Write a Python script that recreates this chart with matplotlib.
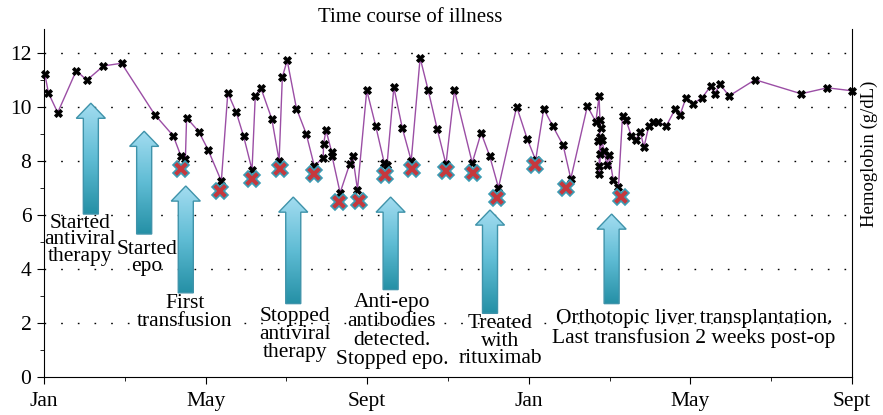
import numpy as np
import matplotlib
matplotlib.use('Agg')
import matplotlib.pyplot as plt
from matplotlib.patches import Polygon
from matplotlib.colors import LinearSegmentedColormap

plt.rcParams['font.family'] = ['Liberation Serif', 'DejaVu Serif']

# hemoglobin measurements (months since first Jan, g/dL)
months = [0.02, 0.11, 0.34, 0.80, 1.06, 1.47, 1.92, 2.74, 3.20, 3.39, 3.50, 3.53,
          3.83, 4.06, 4.39, 4.55, 4.76, 4.94, 5.15, 5.23, 5.37, 5.64, 5.82, 5.90,
          6.02, 6.25, 6.49, 6.69, 6.91, 6.92, 6.98, 7.12, 7.13, 7.33, 7.57, 7.64,
          7.76, 7.99, 8.21, 8.42, 8.49, 8.66, 8.87, 9.09, 9.31, 9.51, 9.73, 9.95,
          10.16, 10.60, 10.82, 11.03, 11.25, 11.70, 11.96, 12.17, 12.37, 12.59, 12.85, 13.04,
          13.45, 13.66, 13.74, 13.76, 13.78, 13.72, 13.76, 13.74, 13.75, 13.77, 13.80, 13.87,
          13.93, 13.99, 14.09, 14.22, 14.32, 14.40, 14.54, 14.65, 14.76, 14.85, 14.97, 15.08,
          15.20, 15.40, 15.63, 15.74, 15.89, 16.06, 16.29, 16.50, 16.60, 16.73, 16.96, 17.60,
          18.74, 19.39, 20.00]
hgb = [11.25, 10.53, 9.80, 11.36, 11.00, 11.53, 11.63, 9.73, 8.94, 8.19, 8.07, 9.61,
       9.10, 8.43, 7.26, 10.53, 9.81, 8.93, 7.68, 10.42, 10.71, 9.56, 8.02, 11.12,
       11.74, 9.95, 9.02, 7.83, 8.12, 8.63, 9.15, 8.35, 8.19, 6.83, 7.91, 8.20,
       6.94, 10.63, 9.31, 7.95, 7.85, 10.74, 9.22, 8.02, 11.83, 10.63, 9.21, 7.89,
       10.63, 7.94, 9.05, 8.20, 7.02, 10.02, 8.83, 8.04, 9.94, 9.31, 8.59, 7.35,
       10.04, 9.46, 10.42, 9.52, 9.24, 8.74, 8.90, 7.81, 7.52, 8.28, 8.78, 8.37,
       7.85, 8.22, 7.30, 7.05, 9.68, 9.54, 8.94, 8.80, 9.09, 8.52, 9.30, 9.44,
       9.46, 9.30, 9.95, 9.70, 10.35, 10.13, 10.35, 10.78, 10.50, 10.85, 10.42, 11.02,
       10.50, 10.72, 10.61]

# transfusions
tx_months = [3.39, 4.36, 5.15, 5.83, 6.69, 7.29, 7.80, 8.45, 9.11, 9.96, 10.61,
             11.22, 12.15, 12.93, 14.27]
tx_hgb = [7.70, 6.90, 7.33, 7.71, 7.52, 6.47, 6.53, 7.47, 7.71, 7.64, 7.58,
          6.63, 7.85, 7.02, 6.69]

tick_pos = [0, 4, 8, 12, 16, 20]
tick_labels = ['Jan', 'May', 'Sept', 'Jan', 'May', 'Sept']

# events: text, arrow x, arrow bottom, arrow tip, text x, text y, line spacing
events = [
    ('Started\nantiviral\ntherapy', 1.16, 6.04, 10.15, 0.89, 5.08, 0.82),
    ('Started\nepo', 2.48, 5.30, 9.11, 2.55, 4.42, 0.85),
    ('First\ntransfusion', 3.51, 3.12, 7.08, 3.49, 2.38, 0.93),
    ('Stopped\nantiviral\ntherapy', 6.17, 2.72, 6.67, 6.21, 1.58, 0.95),
    ('Anti-epo\nantibodies\ndetected.\nStopped epo.', 8.58, 3.24, 6.67, 8.61, 1.70, 1.0),
    ('Treated\nwith\nrituximab', 11.04, 2.36, 6.19, 11.29, 1.33, 0.9),
    ('Orthotopic liver transplantation.\nLast transfusion 2 weeks post-op', 14.05, 2.72, 6.04, 16.09, 1.80, 0.95),
]

fig = plt.figure(figsize=(8.83, 4.15), dpi=100)
ax = fig.add_axes([0.0498, 0.0916, 0.9151, 0.8385])

# grid
for g in [2, 4, 6, 8, 10, 12]:
    ax.axhline(g, color='black', lw=1.0, linestyle=(0, (1.2, 10.8)), zorder=0)

# gradient arrows
cmap = LinearSegmentedColormap.from_list('arr', ['#2590a6', '#5fbcd4', '#a2dcf0'])
grad = np.linspace(0, 1, 100).reshape(-1, 1)
hw_shaft = 0.186
hw_head = 0.36
head_len = 0.56
for txt, ax_x, y0, y1, tx, ty, ls in events:
    verts = [(ax_x - hw_shaft, y0), (ax_x + hw_shaft, y0), (ax_x + hw_shaft, y1 - head_len),
             (ax_x + hw_head, y1 - head_len), (ax_x, y1), (ax_x - hw_head, y1 - head_len),
             (ax_x - hw_shaft, y1 - head_len)]
    poly = Polygon(verts, closed=True, facecolor='none', edgecolor='#3f93aa', lw=1.0, zorder=3)
    ax.add_patch(poly)
    im = ax.imshow(grad, cmap=cmap, aspect='auto', origin='lower',
                   extent=[ax_x - hw_head, ax_x + hw_head, y0, y1], zorder=2)
    im.set_clip_path(poly)
    ax.text(tx, ty, txt, ha='center', va='center', fontsize=15.5, linespacing=ls, zorder=4)

ax.set_xlim(0, 20)
ax.set_ylim(0, 12.9)

# hemoglobin line
ax.plot(months, hgb, color='#9b4ea5', lw=1.0, marker='X', ms=5.5, mfc='black', mec='black',
        mew=0.6, zorder=5, clip_on=False)
# transfusion markers
ax.plot(tx_months, tx_hgb, linestyle='none', marker='X', ms=11, mfc='#c6383d', mec='#3c9cb4',
        mew=1.2, zorder=6)

ax.spines['top'].set_visible(False)
ax.spines['right'].set_visible(True)
ax.set_xticks(tick_pos)
ax.set_xticklabels(tick_labels)
ax.set_xticks([2, 6, 10, 14, 18], minor=True)
ax.set_yticks([0, 2, 4, 6, 8, 10, 12])
ax.set_yticks([1, 3, 5, 7, 9, 11], minor=True)
ax.tick_params(axis='both', which='major', labelsize=15.5, direction='out', length=5)
ax.tick_params(axis='both', which='minor', direction='out', length=3)
ax.tick_params(axis='x', pad=6)
ax.tick_params(axis='y', pad=4)

ax.set_title('Time course of illness', fontsize=15, x=0.453, y=1.0, pad=5)
fig.text(0.985, 0.63, 'Hemoglobin (g/dL)', rotation=90, ha='center', va='center', fontsize=13.5)

fig.savefig('out.png', dpi=100)
